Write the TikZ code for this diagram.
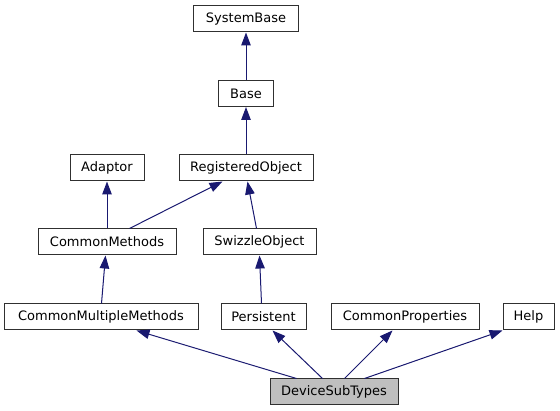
\documentclass[tikz,border=0pt]{standalone}
\usepackage{fontspec}
\setmainfont{DejaVu Sans}
\usetikzlibrary{arrows.meta}
\definecolor{edgeblue}{HTML}{191970}
\definecolor{boxline}{HTML}{303030}
\definecolor{boxfill}{HTML}{BFBFBF}
\begin{document}
\begin{tikzpicture}[x=1pt,y=-1pt,
  cls/.style={draw=boxline, line width=1pt, fill=white, inner sep=0pt,
    minimum height=26pt, font=\fontsize{13}{15}\selectfont, anchor=center},
  cur/.style={cls, fill=boxfill},
  edge/.style={draw=edgeblue, line width=1pt, -{Triangle[length=13pt,width=9.5pt]}}]
\useasboundingbox (0,0) rectangle (560,411);
\node[cls, minimum width=105pt] (sb) at (246,19) {SystemBase};
\node[cls, minimum width=55pt] (base) at (246,93.5) {Base};
\node[cls, minimum width=74pt] (adaptor) at (107,168) {Adaptor};
\node[cls, minimum width=134pt] (ro) at (246,168) {RegisteredObject};
\node[cls, minimum width=138pt] (cm) at (107,242) {CommonMethods};
\node[cls, minimum width=113pt] (so) at (259.5,242) {SwizzleObject};
\node[cls, minimum width=194pt] (cmm) at (101,317) {CommonMultipleMethods};
\node[cls, minimum width=85pt] (pers) at (263.5,317) {Persistent};
\node[cls, minimum width=148pt] (cprop) at (405,317) {CommonProperties};
\node[cls, minimum width=51pt] (help) at (528.5,317) {Help};
\node[cur, minimum width=128pt] (d) at (334,392) {DeviceSubTypes};

\draw[edge] (base.north) -- (sb.south);
\draw[edge] (ro.north) -- (base.south);
\draw[edge] (adaptor.south |- cm.north) -- (adaptor.south);
\draw[edge] ([xshift=92pt]cm.north west) -- ([xshift=44pt]ro.south west);
\draw[edge] ([xshift=54pt]so.north west) -- ([xshift=69pt]ro.south west);
\draw[edge] ([xshift=98pt]cmm.north west) -- ([xshift=68pt]cm.south west);
\draw[edge] ([xshift=41pt]pers.north west) -- ([xshift=57pt]so.south west);
\draw[edge] ([xshift=27pt]d.north west) -- ([xshift=133pt]cmm.south west);
\draw[edge] ([xshift=53pt]d.north west) -- ([xshift=52pt]pers.south west);
\draw[edge] ([xshift=75pt]d.north west) -- ([xshift=62pt]cprop.south west);
\draw[edge] ([xshift=95pt]d.north west) -- (help.south west);
\end{tikzpicture}
\end{document}
